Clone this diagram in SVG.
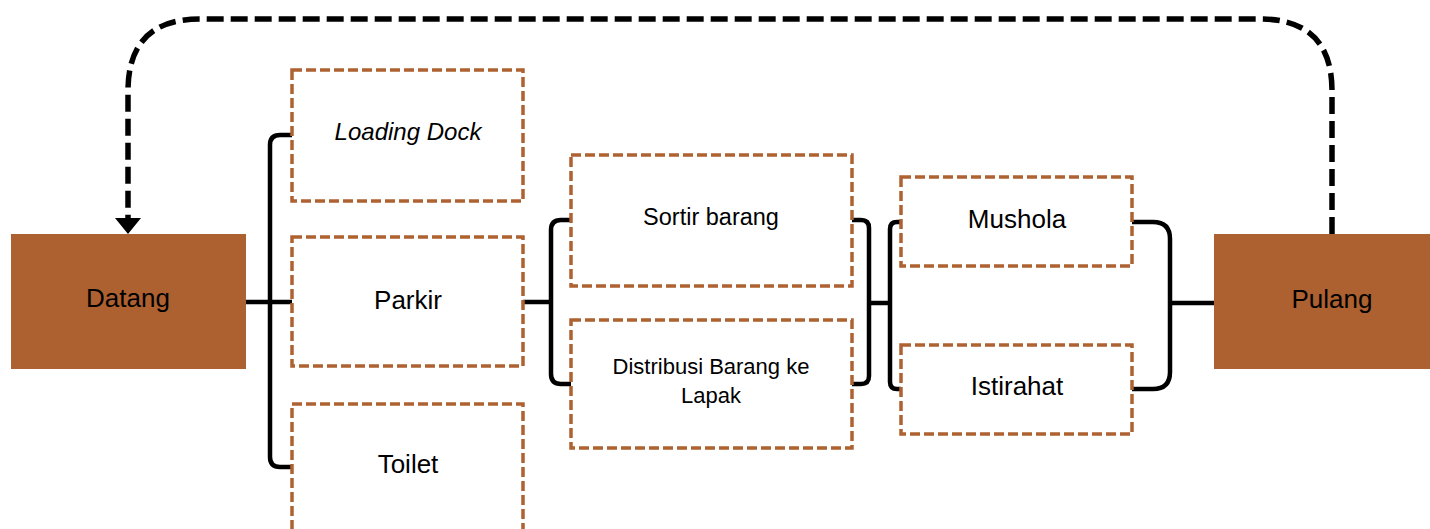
<svg xmlns="http://www.w3.org/2000/svg" width="1430" height="529" viewBox="0 0 1430 529">
  <defs>
    <style>
      .solid { fill: #AD6030; }
      .area { fill: #FFFFFF; stroke: #AE6131; stroke-width: 3.5; stroke-dasharray: 10 4; }
      .link { fill: none; stroke: #000000; stroke-width: 4.5; stroke-linecap: butt; stroke-linejoin: round; }
      .loop { fill: none; stroke: #000000; stroke-width: 5.5; stroke-dasharray: 17 7; }
      text { font-family: "Liberation Sans", Arial, sans-serif; fill: #000000; text-anchor: middle; }
      .big { font-size: 26px; }
      .mid { font-size: 23.5px; }
      .small { font-size: 22px; }
      .ital { font-size: 24px; font-style: italic; }
    </style>
  </defs>
  <rect width="1430" height="529" fill="#FFFFFF"/>

  <!-- connectors: return loop plus the bracket links between stages -->
  <g id="connectors">
    <path class="loop" d="M1332,234 V91 Q1332,19 1260,19 H200 Q128,19 128,91 V220"/>
    <path d="M115,218 L141,218 L128,234 Z" fill="#000000"/>
    <line class="link" x1="245" y1="302" x2="292" y2="302"/>
    <path class="link" d="M292,135 H280 Q270,135 270,145 V457 Q270,467 280,467 H292"/>
    <line class="link" x1="523" y1="302" x2="551" y2="302"/>
    <path class="link" d="M571,220 H561 Q551,220 551,230 V374 Q551,384 561,384 H571"/>
    <path class="link" d="M852,220 H861 Q869,220 869,228 V376 Q869,384 861,384 H852"/>
    <line class="link" x1="869" y1="303" x2="890" y2="303"/>
    <path class="link" d="M901,222 H897 Q890,222 890,229 V382 Q890,389 897,389 H901"/>
    <path class="link" d="M1132,222 H1153 Q1170,222 1170,239 V372 Q1170,389 1153,389 H1132"/>
    <line class="link" x1="1170" y1="303" x2="1214" y2="303"/>
  </g>

  <g id="datang">
    <rect class="solid" x="11" y="234" width="235" height="135"/>
    <text class="big" x="128" y="307">Datang</text>
  </g>

  <g id="loading-dock">
    <rect class="area" x="292" y="70" width="231" height="131"/>
    <text class="ital" x="408" y="140">Loading Dock</text>
  </g>

  <g id="parkir">
    <rect class="area" x="292" y="237" width="231" height="129"/>
    <text class="big" x="408" y="309">Parkir</text>
  </g>

  <g id="toilet">
    <rect class="area" x="292" y="404" width="231" height="140"/>
    <text class="big" x="408" y="473">Toilet</text>
  </g>

  <g id="sortir-barang">
    <rect class="area" x="571" y="155" width="281" height="131"/>
    <text class="mid" x="711" y="225">Sortir barang</text>
  </g>

  <g id="distribusi-barang">
    <rect class="area" x="571" y="320" width="281" height="128"/>
    <text class="small" x="711" y="374">Distribusi Barang ke</text>
    <text class="small" x="711" y="403">Lapak</text>
  </g>

  <g id="mushola">
    <rect class="area" x="901" y="177" width="231" height="89"/>
    <text class="big" x="1017" y="228">Mushola</text>
  </g>

  <g id="istirahat">
    <rect class="area" x="901" y="345" width="231" height="89"/>
    <text class="big" x="1017" y="395">Istirahat</text>
  </g>

  <g id="pulang">
    <rect class="solid" x="1214" y="234" width="236" height="135"/>
    <text class="big" x="1332" y="308">Pulang</text>
  </g>
</svg>
